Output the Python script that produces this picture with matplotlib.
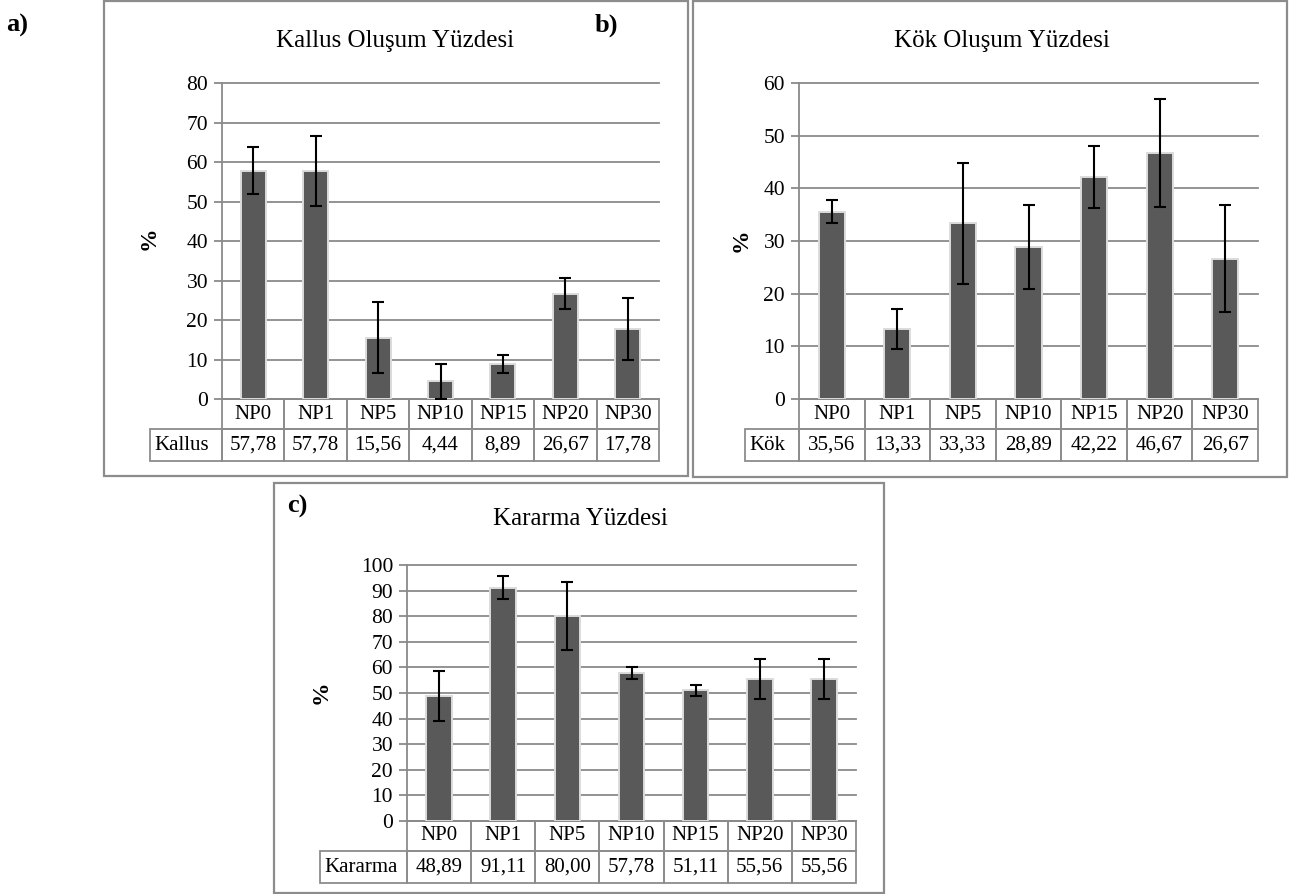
import numpy as np
import matplotlib
matplotlib.use('Agg')
import matplotlib.pyplot as plt
from matplotlib.patches import Rectangle
from matplotlib.transforms import blended_transform_factory

plt.rcParams['font.family'] = ['Liberation Serif', 'DejaVu Serif']

W, H = 1299, 894

categories = ['NP0', 'NP1', 'NP5', 'NP10', 'NP15', 'NP20', 'NP30']

kallus = [57.78, 57.78, 15.56, 4.44, 8.89, 26.67, 17.78]
kallus_err = [5.9, 8.9, 8.9, 4.44, 2.2, 3.85, 7.9]

kok = [35.56, 13.33, 33.33, 28.89, 42.22, 46.67, 26.67]
kok_err = [2.2, 3.85, 11.5, 8.0, 5.9, 10.2, 10.2]

kararma = [48.89, 91.11, 80.00, 57.78, 51.11, 55.56, 55.56]
kararma_err = [9.7, 4.4, 13.3, 2.2, 2.2, 7.9, 7.9]

GRID = '#8a8a8a'
FRAME = '#8c8c8c'
BAR = '#595959'
FS_TICK = 15.5
FS_TAB = 15
FS_TITLE = 18
FS_LABEL = 19

fig = plt.figure(figsize=(W / 100, H / 100), dpi=100)


def fx(x):
    return x / W


def fy(y):
    return 1 - y / H


def panel(frame, axbox, table_left, rows, title, title_xy, label, label_xy,
          pct_xy, vals, errs, rowname, ymax, step):
    x0, y0, x1, y1 = frame
    fig.add_artist(Rectangle((fx(x0), fy(y1)), (x1 - x0) / W, (y1 - y0) / H,
                             transform=fig.transFigure, fill=False,
                             edgecolor=FRAME, lw=1.6))
    l, t, r, b = axbox
    axw = r - l
    axh = b - t
    ax = fig.add_axes([fx(l), fy(b), axw / W, axh / H])
    x = np.arange(len(categories))
    ax.bar(x, vals, width=0.40, color=BAR, edgecolor='#dcdcdc',
           linewidth=1.4, zorder=3)
    ax.errorbar(x, vals, yerr=errs, fmt='none', ecolor='black',
                elinewidth=1.5, capsize=4, capthick=1.5, zorder=4)
    ax.set_xlim(-0.5, len(categories) - 0.5)
    ax.set_ylim(0, ymax)
    ax.set_yticks(np.arange(0, ymax + 1, step))
    ax.yaxis.grid(True, color=GRID, lw=1.3, clip_on=False)
    ax.set_axisbelow(True)
    ax.set_xticks([])
    for s in ['top', 'right']:
        ax.spines[s].set_visible(False)
    for s in ['left', 'bottom']:
        ax.spines[s].set_color(GRID)
        ax.spines[s].set_linewidth(1.3)
    ax.tick_params(axis='y', length=6, color=GRID, width=1.3,
                   labelsize=FS_TICK, pad=4)

    # data table drawn below the axes
    r1, r2 = rows  # row heights in pixels
    h1 = r1 / axh
    h2 = r2 / axh
    tr = blended_transform_factory(ax.transData, ax.transAxes)
    texts = [f"{v:.2f}".replace('.', ',') for v in vals]
    for i, (cat, txt) in enumerate(zip(categories, texts)):
        ax.add_patch(Rectangle((i - 0.5, -h1), 1, h1, transform=tr,
                               fill=False, edgecolor=FRAME, lw=1.3,
                               clip_on=False))
        ax.add_patch(Rectangle((i - 0.5, -h1 - h2), 1, h2, transform=tr,
                               fill=False, edgecolor=FRAME, lw=1.3,
                               clip_on=False))
        ax.text(i, -h1 / 2, cat, transform=tr, ha='center', va='center',
                fontsize=FS_TAB)
        ax.text(i, -h1 - h2 / 2, txt, transform=tr, ha='center',
                va='center', fontsize=FS_TAB)
    lx = (table_left - l) / axw
    ax.add_patch(Rectangle((lx, -h1 - h2), -lx, h2, transform=ax.transAxes,
                           fill=False, edgecolor=FRAME, lw=1.3,
                           clip_on=False))
    ax.text(lx + 4 / axw, -h1 - h2 / 2, rowname, transform=ax.transAxes,
            ha='left', va='center', fontsize=FS_TAB)

    fig.text(fx(title_xy[0]), fy(title_xy[1]), title, ha='center',
             va='center', fontsize=FS_TITLE)
    if label:
        fig.text(fx(label_xy[0]), fy(label_xy[1]), label, ha='left',
                 va='center', fontsize=FS_LABEL, fontweight='bold')
    fig.text(fx(pct_xy[0]), fy(pct_xy[1]), '%', ha='center', va='center',
             fontsize=17, fontweight='bold', rotation=90)
    return ax


panel((104, 1, 688, 476), (222, 83, 659, 399), 150, (30, 32),
      'Kallus Oluşum Yüzdesi', (395, 41), 'a)', (6, 25), (149, 238),
      kallus, kallus_err, 'Kallus', 80, 10)

panel((693, 1, 1287, 477), (799, 83, 1258, 399), 745, (30, 32),
      'Kök Oluşum Yüzdesi', (1002, 41), '', (0, 0), (741, 240),
      kok, kok_err, 'Kök', 60, 10)

fig.text(fx(595), fy(25), 'b)', ha='left', va='center', fontsize=FS_LABEL,
         fontweight='bold')

panel((274, 483, 884, 893), (407, 565, 856, 821), 320, (30, 32),
      'Kararma Yüzdesi', (580, 519), 'c)', (287, 506), (321, 692),
      kararma, kararma_err, 'Kararma', 100, 10)

fig.savefig('out.png', dpi=100, facecolor='white')
